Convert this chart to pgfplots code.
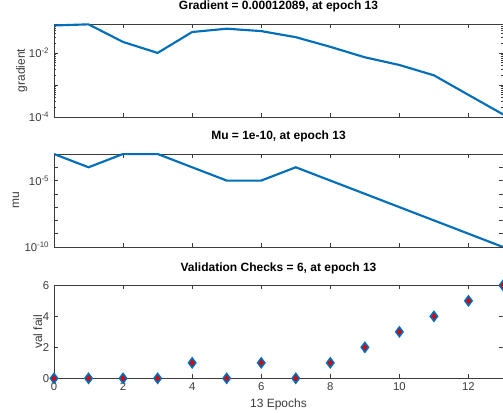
\documentclass[border=0pt]{standalone}
\usepackage{fontspec}
\setmainfont{Liberation Sans}
\usepackage{pgfplots}
\pgfplotsset{compat=1.18}
\definecolor{mblue}{RGB}{0,110,185}
\definecolor{axgray}{RGB}{60,60,60}
\definecolor{mred}{RGB}{225,0,0}
\begin{document}
\begin{tikzpicture}
\useasboundingbox (0pt,0pt) rectangle (377.25pt,309.75pt);
\pgfplotsset{
  every axis/.append style={
    scale only axis, width=336.75pt, height=69.75pt, anchor=south west,
    xmin=0, xmax=13, xtick={0,2,...,12},
    axis line style={axgray, line width=0.6pt},
    tick style={axgray, line width=0.5pt},
    major tick length=3pt, minor tick length=1.6pt,
    ticklabel style={font=\fontsize{8.5}{10}\selectfont, text=axgray},
    title style={font=\bfseries\fontsize{9}{10}\selectfont, at={(0.5,1)}, anchor=center, yshift=7pt},
    ylabel style={font=\fontsize{9}{10}\selectfont, text=axgray, anchor=center},
    xlabel style={font=\fontsize{9}{10}\selectfont, text=axgray, anchor=center},
    /pgf/number format/assume math mode=true,
  }
}
% Gradient
\begin{axis}[at={(40.5pt,222pt)}, ymode=log, ymin=1e-4, ymax=0.08,
  ytick={1e-4,1e-3,1e-2}, yticklabels={10\textsuperscript{-4},,10\textsuperscript{-2}},
  minor ytick={2e-4,3e-4,4e-4,5e-4,6e-4,7e-4,8e-4,9e-4,2e-3,3e-3,4e-3,5e-3,6e-3,7e-3,8e-3,9e-3,2e-2,3e-2,4e-2,5e-2,6e-2,7e-2},
  xticklabels={},
  ylabel={gradient}, ylabel style={at={(axis description cs:-0.072,0.5)}},
  title={Gradient = 0.00012089, at epoch 13}]
\addplot[mblue, line width=1.6pt] coordinates {
(0,0.072) (1,0.078) (2,0.022) (3,0.010) (4,0.045) (5,0.057) (6,0.048) (7,0.031)
(8,0.0155) (9,0.0073) (10,0.0042) (11,0.0020) (12,0.00049) (13,0.00012089)};
\end{axis}
% Mu
\begin{axis}[at={(40.5pt,124.5pt)}, ymode=log, ymin=1e-10, ymax=1e-3,
  ytick={1e-10,1e-5}, yticklabels={10\textsuperscript{-10},10\textsuperscript{-5}},
  minor ytick={1e-9,1e-8,1e-7,1e-6,1e-4}, minor tick length=3pt,
  xticklabels={},
  ylabel={mu}, ylabel style={at={(axis description cs:-0.085,0.5)}},
  title={Mu = 1e-10, at epoch 13}]
\addplot[mblue, line width=1.6pt] coordinates {
(0,1e-3) (1,1e-4) (2,1e-3) (3,1e-3) (4,1e-4) (5,1e-5) (6,1e-5) (7,1e-4)
(8,1e-5) (9,1e-6) (10,1e-7) (11,1e-8) (12,1e-9) (13,1e-10)};
\end{axis}
% Validation checks
\begin{axis}[at={(40.5pt,26pt)}, ymin=0, ymax=6, ytick={0,2,4,6}, clip=false,
  ylabel={val fail}, ylabel style={at={(axis description cs:-0.036,0.5)}},
  xlabel={13 Epochs}, xlabel style={at={(axis description cs:0.5,0)}, yshift=-19.5pt},
  title={Validation Checks = 6, at epoch 13}]
\addplot[only marks, mark=diamond*, mark size=3.6pt, mark options={draw=mblue, fill=mred, line width=1.2pt}] coordinates {
(0,0) (1,0) (2,0) (3,0) (4,1) (5,0) (6,1) (7,0) (8,1) (9,2) (10,3) (11,4) (12,5) (13,6)};
\end{axis}
\end{tikzpicture}
\end{document}
